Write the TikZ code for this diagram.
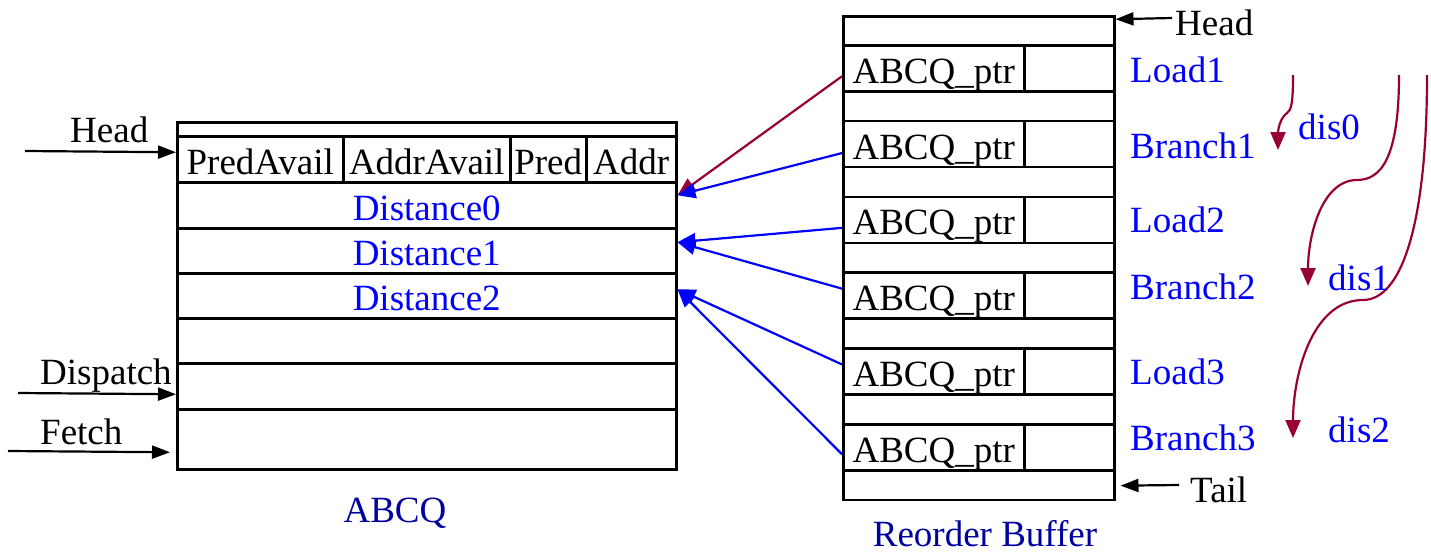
\documentclass[tikz,border=0pt]{standalone}
\usepackage{fontspec}
\setmainfont{Liberation Serif}
\usetikzlibrary{arrows.meta}
\definecolor{dred}{RGB}{153,0,51}
\definecolor{lblue}{RGB}{0,0,255}
\definecolor{nblue}{RGB}{0,0,160}
\begin{document}
\begin{tikzpicture}[x=1pt,y=-1pt,
  every node/.style={font=\fontsize{37}{44}\selectfont, inner sep=0pt},
  boxst/.style={draw, line width=2.5pt, rectangle, anchor=north west},
  cell/.style={boxst, text height=30pt, text depth=0pt},
  lbl/.style={anchor=base west},
  blk/.style={line width=2.2pt, -{Triangle[length=18pt,width=13pt]}},
  bline/.style={draw=lblue, line width=2.2pt, -{Triangle[length=18pt,width=15pt]}},
  rline/.style={draw=dred, line width=2.2pt, -{Triangle[length=18pt,width=15pt]}},
  blue lbl/.style={lbl, text=lblue}]
\useasboundingbox (0,0) rectangle (1431,554);

% ---------- ABCQ ----------
\node[boxst, minimum width=499pt, minimum height=14pt] (atop) at (176,121) {};
\node[cell, minimum width=166pt, minimum height=46pt] (pa) at (176,135) {PredAvail};
\node[cell, minimum width=167pt, minimum height=46pt] (aa) at (342,135) {AddrAvail};
\node[cell, minimum width=76pt, minimum height=46pt] (pr) at (509,135) {Pred};
\node[cell, minimum width=90pt, minimum height=46pt] (ad) at (585,135) {Addr};
\node[cell, minimum width=499pt, minimum height=46pt, text=lblue] (d0) at (176,181) {Distance0};
\node[cell, minimum width=499pt, minimum height=45pt, text=lblue] (d1) at (176,227) {Distance1};
\node[cell, minimum width=499pt, minimum height=45pt, text=lblue] (d2) at (176,272) {Distance2};
\node[boxst, minimum width=499pt, minimum height=45pt] (r4) at (176,317) {};
\node[boxst, minimum width=499pt, minimum height=46pt] (r5) at (176,362) {};
\node[boxst, minimum width=499pt, minimum height=60pt] (r6) at (176,408) {};

\node[lbl] (headl) at (70,142) {Head};
\node[lbl] (disp) at (40,384) {Dispatch};
\node[lbl] (fetch) at (40,444) {Fetch};
\coordinate (hs) at (25,151);
\coordinate (ds) at (18,393);
\coordinate (fs) at (8,451);
\draw[blk] (hs) -- ([yshift=7pt]pa.west);
\draw[blk] (ds) -- ([yshift=-8pt]r5.west);
\draw[blk] (fs) -- ([xshift=-6pt,yshift=-13pt]r6.west);
\node[anchor=base, text=nblue] (abcq) at (395,522) {ABCQ};

% ---------- Reorder buffer ----------
\node[boxst, minimum width=271pt, minimum height=29pt] (rtop) at (842,15) {};
\foreach \k in {1,...,6}{
  \pgfmathsetmacro{\s}{44+75.8*(\k-1)}
  \node[cell, minimum width=181pt, minimum height=46pt] (p\k) at (842,\s) {ABCQ\_ptr};
  \node[boxst, minimum width=90pt, minimum height=46pt] (q\k) at (1023,\s) {};
  \node[boxst, minimum width=271pt, minimum height=29.8pt] (e\k) at (842,\s+46) {};
}
\node[anchor=base, text=nblue] (rob) at (985,546) {Reorder Buffer};

\node[lbl] (headr) at (1175,35) {Head};
\node[lbl] (tail) at (1190,502) {Tail};
\coordinate (hrs) at (1172,18);
\coordinate (trs) at (1179,485);
\draw[blk] (hrs) -- ([yshift=11.5pt]rtop.east);
\draw[blk] (trs) -- ([xshift=5pt,yshift=-0.5pt]e6.east);

\node[blue lbl] (l1) at (1130,82) {Load1};
\node[blue lbl] (b1) at (1130,158) {Branch1};
\node[blue lbl] (l2) at (1130,232) {Load2};
\node[blue lbl] (b2) at (1130,299) {Branch2};
\node[blue lbl] (l3) at (1130,384) {Load3};
\node[blue lbl] (b3) at (1130,450) {Branch3};

% ---------- pointers ----------
\draw[rline] ([yshift=-8pt]p1.west) -- ([yshift=10pt]d0.east);
\draw[bline] ([yshift=-9pt]p2.west) -- ([yshift=10pt]d0.east);
\draw[bline] ([yshift=-8pt]p3.west) -- ([yshift=8.5pt]d1.east);
\draw[bline] ([yshift=7pt]p4.west) -- ([yshift=8.5pt]d1.east);
\draw[bline] ([yshift=7pt]p5.west) -- ([yshift=6.5pt]d2.east);
\draw[bline] ([yshift=-7pt]p6.west) -- ([yshift=6.5pt]d2.east);

% ---------- distances ----------
\coordinate (c0s) at (1293,75);
\coordinate (c0e) at (1278,150);
\coordinate (c1s) at (1399,75);
\coordinate (c1e) at (1308,286);
\coordinate (c2s) at (1427,75);
\coordinate (c2e) at (1293,438);
\draw[rline] (c0s) .. controls (1293,105) and (1291,110) .. (1287,113)
  .. controls (1280,118) and (1278,130) .. (c0e);
\draw[rline] (c1s) .. controls (1399,160) and (1380,180) .. (1357,180)
  .. controls (1322,180) and (1308,235) .. (c1e);
\draw[rline] (c2s) .. controls (1427,230) and (1400,300) .. (1363,300)
  .. controls (1312,300) and (1293,375) .. (c2e);
\node[blue lbl] (dis0) at (1298,139) {dis0};
\node[blue lbl] (dis1) at (1328,290) {dis1};
\node[blue lbl] (dis2) at (1328,442) {dis2};
\end{tikzpicture}
\end{document}
